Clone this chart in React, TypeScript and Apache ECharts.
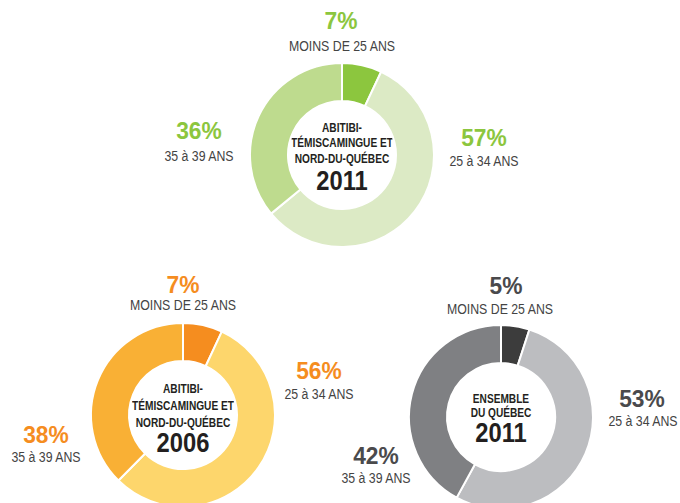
import React, { useEffect, useRef } from "react";
import * as echarts from "echarts";

const categories = ["MOINS DE 25 ANS", "25 à 34 ANS", "35 à 39 ANS"];
const abitibi2011 = [7, 57, 36];
const abitibi2006 = [7, 56, 38];
const quebec2011 = [5, 53, 42];

const greenColors = ["#8cc63e", "#dceac5", "#bedb8e"];
const orangeColors = ["#f58d1f", "#fdd66c", "#f9b035"];
const grayColors = ["#3c3c3c", "#bcbdc0", "#7f8083"];

const FONT = "'Liberation Sans', Arial, sans-serif";

type Donut = {
  name: string;
  values: number[];
  colors: string[];
  pctColor: string;
  center: [number, number];
  titleLines: string[];
  titleYs: number[];
  year: string;
  yearY: number;
  pctPos: [number, number][];
  catPos: [number, number][];
};

const donuts: Donut[] = [
  {
    name: "abitibi2011",
    values: abitibi2011,
    colors: greenColors,
    pctColor: "#8cc63e",
    center: [342, 155],
    titleLines: ["ABITIBI-", "TÉMISCAMINGUE ET", "NORD-DU-QUÉBEC"],
    titleYs: [126.5, 142, 158],
    year: "2011",
    yearY: 180.5,
    pctPos: [[341, 21], [484, 138], [199, 131]],
    catPos: [[342, 46.5], [484, 161.5], [199, 156]],
  },
  {
    name: "abitibi2006",
    values: abitibi2006,
    colors: orangeColors,
    pctColor: "#f58d1f",
    center: [183, 415],
    titleLines: ["ABITIBI-", "TÉMISCAMINGUE ET", "NORD-DU-QUÉBEC"],
    titleYs: [387.5, 405, 421.5],
    year: "2006",
    yearY: 442.5,
    pctPos: [[183, 285], [319, 371], [46, 435]],
    catPos: [[183, 305], [319, 394], [46, 457]],
  },
  {
    name: "quebec2011",
    values: quebec2011,
    colors: grayColors,
    pctColor: "#4a4a4c",
    center: [501, 417],
    titleLines: ["ENSEMBLE", "DU QUÉBEC"],
    titleYs: [397.5, 411.5],
    year: "2011",
    yearY: 432,
    pctPos: [[506, 286], [642, 399], [376, 456]],
    catPos: [[500, 309], [643, 421], [376, 478]],
  },
];

export default function App() {
  const ref = useRef<HTMLDivElement>(null);
  useEffect(() => {
    if (!ref.current) return;
    const chart = echarts.init(ref.current, undefined, { renderer: "svg" });

    const series: any[] = donuts.map((d) => ({
      type: "pie",
      name: d.name,
      center: d.center,
      radius: [54, 92],
      startAngle: 90,
      clockwise: true,
      silent: true,
      label: { show: false },
      labelLine: { show: false },
      itemStyle: { borderColor: "#ffffff", borderWidth: 2 },
      data: d.values.map((v, i) => ({
        name: categories[i],
        value: v,
        itemStyle: { color: d.colors[i] },
      })),
    }));

    const graphics: any[] = [];
    donuts.forEach((d) => {
      d.values.forEach((v, i) => {
        const [px, py] = d.pctPos[i];
        const [qx, qy] = d.catPos[i];
        graphics.push({
          type: "text",
          x: px,
          y: py,
          scaleX: 0.95,
          style: {
            text: `${v}%`,
            fill: d.pctColor,
            font: `bold 24px ${FONT}`,
            textAlign: "center",
            textVerticalAlign: "middle",
          },
        });
        graphics.push({
          type: "text",
          x: qx,
          y: qy,
          scaleX: 0.85,
          style: {
            text: categories[i],
            fill: "#444444",
            font: `14.5px ${FONT}`,
            textAlign: "center",
            textVerticalAlign: "middle",
          },
        });
      });
      const [cx] = d.center;
      d.titleLines.forEach((t, k) => {
        graphics.push({
          type: "text",
          x: cx,
          y: d.titleYs[k],
          scaleX: 0.78,
          style: {
            text: t,
            fill: "#231f20",
            font: `bold 13px ${FONT}`,
            textAlign: "center",
            textVerticalAlign: "middle",
          },
        });
      });
      graphics.push({
        type: "text",
        x: cx,
        y: d.yearY,
        scaleX: 0.88,
        style: {
          text: d.year,
          fill: "#231f20",
          font: `bold 27px ${FONT}`,
          textAlign: "center",
          textVerticalAlign: "middle",
        },
      });
    });

    chart.setOption({
      animation: false,
      backgroundColor: "#ffffff",
      series,
      graphic: graphics,
    });
    return () => chart.dispose();
  }, []);
  return (
    <div
      ref={ref}
      style={{ position: "fixed", left: 0, top: 0, width: 680, height: 503 }}
    />
  );
}
